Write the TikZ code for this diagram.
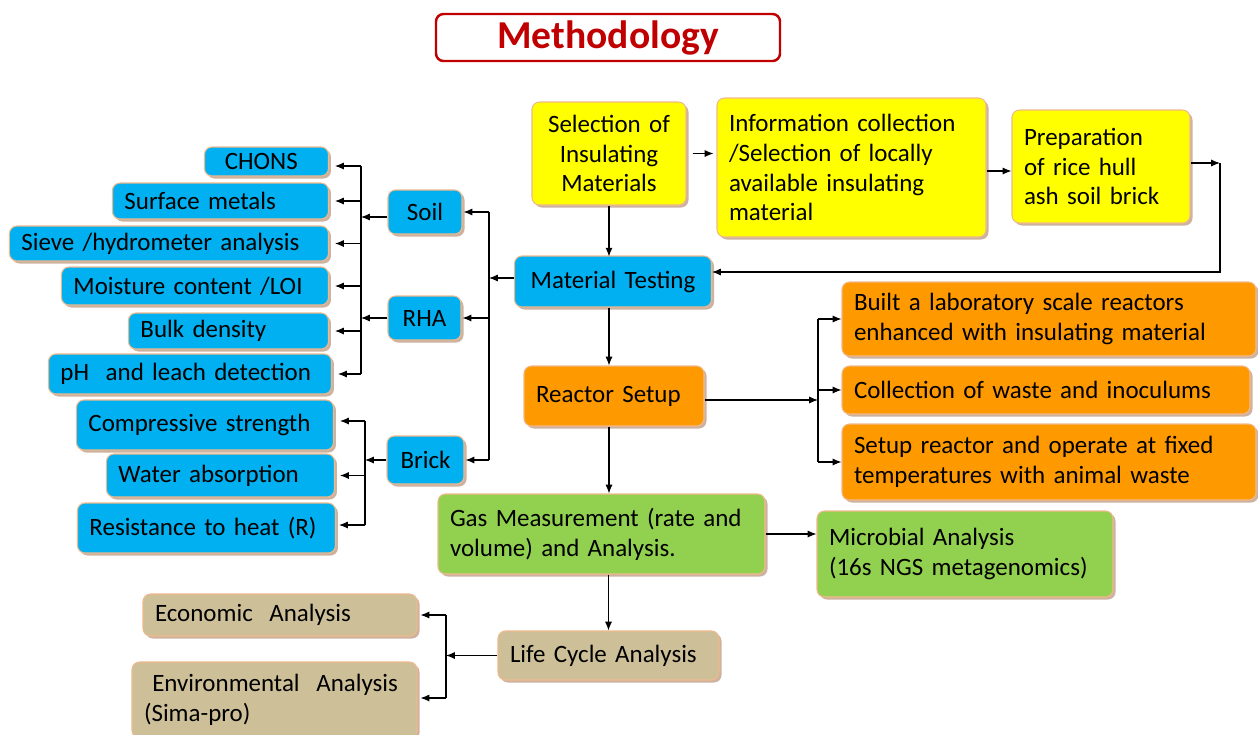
\documentclass[tikz,border=0pt]{standalone}
\usepackage{fontspec}
\setmainfont{Carlito}
\usetikzlibrary{positioning, arrows.meta, shadows, calc}
\definecolor{titleRed}{RGB}{192,0,0}
\definecolor{edgeCol}{RGB}{240,185,140}
\definecolor{shadowCol}{RGB}{200,170,150}
\definecolor{selColor}{RGB}{255,255,0}
\definecolor{testColor}{RGB}{0,176,240}
\definecolor{reacColor}{RGB}{255,153,0}
\definecolor{gasColor}{RGB}{146,208,80}
\definecolor{lcaColor}{RGB}{205,192,152}
\def\itemEdge{6.58}
\def\brickEdge{6.72}
\def\soilBus{7.22}
\def\brickBus{7.30}
\def\lcaBus{8.92}
\def\matBus{9.78}
\def\reacBus{16.36}
\def\prepBus{24.40}

\begin{document}
\begin{tikzpicture}[
    >={Latex[length=5pt,width=4pt]},
    every node/.style={font=\fontsize{14.2}{17}\selectfont},
    arrow/.style    ={->, line width=0.6pt, black},
    trunk/.style    ={line width=0.6pt, black},
    stepBox/.style  ={rectangle, rounded corners=0.15cm, draw=edgeCol, line width=0.6pt,
                      drop shadow={shadow xshift=0.05cm, shadow yshift=-0.05cm, fill=shadowCol, opacity=0.9},
                      inner xsep=0.24cm, inner ysep=0pt, align=left, anchor=center},
    yellowBox/.style={stepBox, fill=selColor},
    blueBox/.style  ={stepBox, fill=testColor},
    orangeBox/.style={stepBox, fill=reacColor},
    greenBox/.style ={stepBox, fill=gasColor},
    tanBox/.style   ={stepBox, fill=lcaColor},
    titleBox/.style ={rectangle, rounded corners=0.15cm, draw=titleRed, line width=1.4pt,
                      minimum width=6.88cm, minimum height=0.94cm, text=titleRed,
                      font=\bfseries\fontsize{22.5}{26}\selectfont},
]
\useasboundingbox (0,0) rectangle (25.16,-14.68);

% title
\node[titleBox] (title) at (12.16,-0.75) {Methodology};

% =====================================================
% main column
% =====================================================
\node[yellowBox, text width=2.60cm, minimum height=2.06cm, align=center] (sel) at (12.18,-3.07)
     {Selection of\\Insulating\\Materials};
\node[yellowBox, text width=4.90cm, minimum height=2.78cm] (info) at (17.03,-3.35)
     {Information collection\\/Selection of locally\\available insulating\\material};
\node[yellowBox, text width=3.08cm, minimum height=2.26cm] (prep) at (22.02,-3.33)
     {Preparation\\of rice hull\\ash soil brick};
\node[blueBox, text width=3.46cm, minimum height=1.02cm, align=center] (mattest) at (12.26,-5.63)
     {Material Testing};
\node[orangeBox, text width=3.12cm, minimum height=1.20cm] (reactor) at (12.28,-7.92)
     {Reactor Setup};
\node[greenBox, text width=6.06cm, minimum height=1.60cm] (gas) at (12.03,-10.68)
     {Gas Measurement (rate and\\volume) and Analysis.};
\node[greenBox, text width=5.44cm, minimum height=1.72cm] (micro) at (19.30,-11.08)
     {Microbial Analysis\\(16s NGS metagenomics)};
\node[tanBox, text width=3.94cm, minimum height=0.98cm] (lca) at (12.17,-13.11)
     {Life Cycle Analysis};

% =====================================================
% reactor branches
% =====================================================
\node[orangeBox, text width=7.80cm, minimum height=1.48cm] (built) at (20.98,-6.38)
     {Built a laboratory scale reactors\\enhanced with insulating material};
\node[orangeBox, text width=7.68cm, minimum height=0.96cm] (coll) at (20.92,-7.80)
     {Collection of waste and inoculums};
\node[orangeBox, text width=7.80cm, minimum height=1.52cm] (setup) at (20.98,-9.24)
     {Setup reactor and operate at fixed\\temperatures with animal waste};

% =====================================================
% LCA branches
% =====================================================
\node[tanBox, text width=5.00cm, minimum height=0.84cm] (econ) at (5.60,-12.30)
     {Economic~ Analysis};
\node[tanBox, text width=5.22cm, minimum height=1.52cm] (env) at (5.49,-14.00)
     {~Environmental~ Analysis\\(Sima-pro)};

% =====================================================
% material testing branches
% =====================================================
\node[blueBox, inner xsep=0.15cm, text width=1.18cm, minimum height=0.88cm, align=center] (soil)  at (8.50,-4.24) {Soil};
\node[blueBox, inner xsep=0.15cm, text width=1.16cm, minimum height=0.88cm, align=center] (rha)   at (8.49,-6.36) {RHA};
\node[blueBox, inner xsep=0.15cm, text width=1.24cm, minimum height=0.96cm, align=center] (brick) at (8.51,-9.20) {Brick};

\node[blueBox, text width=2.00cm, minimum height=0.58cm, anchor=east] (chons) at (\itemEdge,-3.23) {~CHONS};
\node[blueBox, text width=3.84cm, minimum height=0.72cm, anchor=east] (surf)  at (\itemEdge,-4.02) {Surface metals};
\node[blueBox, text width=5.90cm, minimum height=0.70cm, anchor=east] (sieve) at (\itemEdge,-4.87) {Sieve /hydrometer analysis};
\node[blueBox, text width=4.86cm, minimum height=0.76cm, anchor=east] (moist) at (\itemEdge,-5.72) {Moisture content /LOI};
\node[blueBox, text width=3.52cm, minimum height=0.72cm, anchor=east] (bulk)  at (\itemEdge,-6.62) {Bulk density};
\node[blueBox, text width=5.18cm, minimum height=0.80cm, anchor=east] (ph)    at (6.64,-7.48) {pH~ and leach detection};

\node[blueBox, text width=4.66cm, minimum height=1.00cm, anchor=east] (comp)   at (6.68,-8.50)  {Compressive strength};
\node[blueBox, text width=4.08cm, minimum height=0.86cm, anchor=east] (water)  at (6.70,-9.51)  {Water absorption};
\node[blueBox, text width=4.68cm, minimum height=1.00cm, anchor=east] (resist) at (\brickEdge,-10.56) {Resistance to heat (R)};

% bus coordinates
\coordinate (soilbus)  at (\soilBus,0);
\coordinate (brickbus) at (\brickBus,0);
\coordinate (lcabus)   at (\lcaBus,0);
\coordinate (matbus)   at (\matBus,0);
\coordinate (reacbus)  at (\reacBus,0);
\coordinate (prepbus)  at (\prepBus,-3.26);

% =====================================================
% Connecting arrows
% =====================================================
% top row
\draw[arrow, shorten <=0.12cm, shorten >=0.06cm] (sel.east) -- (sel.east -| info.west);
\draw[arrow] ([yshift=-0.07cm]info.east) -- ([yshift=-0.07cm]info.east -| prep.west);
\draw[arrow] (prep.east |- prepbus) -- (prepbus);
\draw[arrow] (prepbus) |- ([yshift=0.19cm]mattest.east);

% main column
\draw[arrow] (sel.south -| mattest.north) ++(-0.08,0) -- ++(0,-1.02);
\draw[arrow] (mattest.south) ++(-0.08,0) -- ([xshift=-0.08cm]mattest.south |- reactor.north);
\draw[arrow] ([xshift=-0.10cm]reactor.south) -- ([xshift=-0.10cm]reactor.south |- gas.north);
\draw[arrow] ([xshift=0.14cm]gas.south) -- ([xshift=0.14cm]gas.south |- lca.north);
\draw[arrow] (gas.east) -- (gas.east -| micro.west);

% reactor branches
\draw[arrow] ([yshift=-0.08cm]reactor.east) -- ([yshift=-0.08cm]reactor.east -| reacbus);
\draw[trunk] (built.west -| reacbus) -- (setup.west -| reacbus);
\foreach \n in {built, coll, setup}
    \draw[arrow] (\n.west -| reacbus) -- (\n.west);

% material testing branches
\draw[arrow] ([yshift=0.07cm]mattest.west) -- ([yshift=0.07cm]mattest.west -| matbus);
\draw[trunk] (soil.east -| matbus) -- (brick.east -| matbus);
\foreach \n in {soil, rha, brick}
    \draw[arrow, shorten >=0.02cm] (\n.east -| matbus) -- (\n.east);

% soil and RHA items
\draw[arrow] ([yshift=-0.1cm]soil.west) -- ([yshift=-0.1cm]soil.west -| soilbus);
\draw[arrow] (rha.west) -- (rha.west -| soilbus);
\draw[trunk] ([yshift=-0.09cm]chons.east -| soilbus) -- (ph.east -| soilbus);
\draw[arrow, shorten >=0.12cm] ([yshift=-0.09cm]chons.east -| soilbus) -- ([yshift=-0.09cm]chons.east);
\foreach \n in {surf, sieve, moist, bulk, ph}
    \draw[arrow, shorten >=0.12cm] (\n.east -| soilbus) -- (\n.east);

% brick items
\draw[arrow] (brick.west) -- (brick.west -| brickbus);
\draw[trunk] ([yshift=0.08cm]comp.east -| brickbus) -- ([yshift=0.06cm]resist.east -| brickbus);
\draw[arrow, shorten >=0.12cm] ([yshift=0.08cm]comp.east -| brickbus) -- ([yshift=0.08cm]comp.east);
\draw[arrow, shorten >=0.1cm] (water.east -| brickbus) -- (water.east);
\draw[arrow, shorten >=0.06cm] ([yshift=0.06cm]resist.east -| brickbus) -- ([yshift=0.06cm]resist.east);

% LCA branches
\draw[arrow] (lca.west) -- (lca.west -| lcabus);
\draw[trunk] (econ.east -| lcabus) -- ([yshift=0.04cm]env.east -| lcabus);
\draw[arrow, shorten >=0.06cm] (econ.east -| lcabus) -- (econ.east);
\draw[arrow, shorten >=0.06cm] ([yshift=0.04cm]env.east -| lcabus) -- ([yshift=0.04cm]env.east);

\end{tikzpicture}
\end{document}
